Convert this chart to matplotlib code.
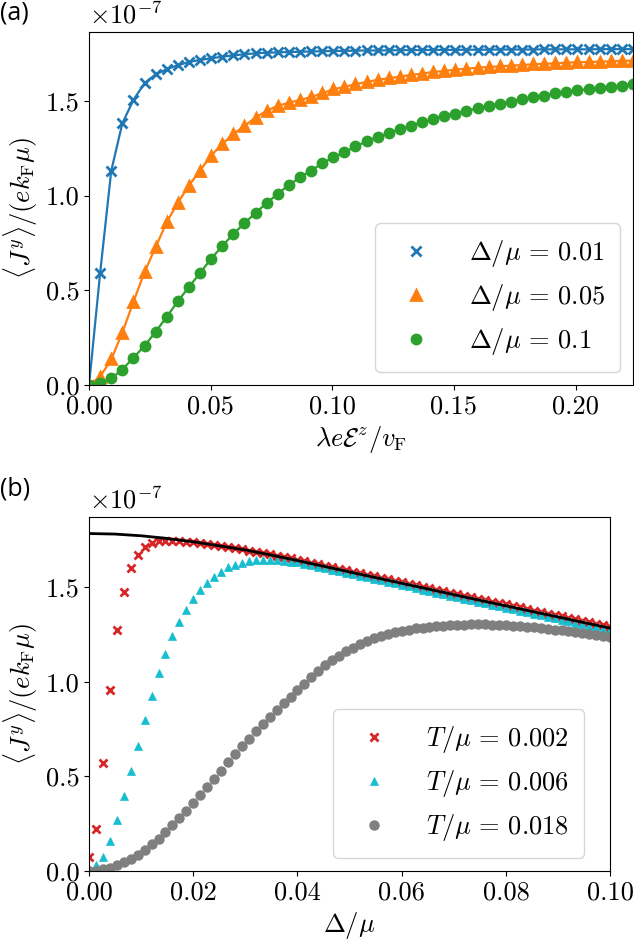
import numpy as np
import matplotlib
matplotlib.use('Agg')
import matplotlib.pyplot as plt
from matplotlib.ticker import FuncFormatter, MultipleLocator

plt.rcParams['font.family'] = 'serif'
plt.rcParams['font.serif'] = ['cmr10']
plt.rcParams['mathtext.fontset'] = 'cm'
plt.rcParams['axes.unicode_minus'] = False

# ---- panel (a): current vs field, values in units of 1e-7 ----
field = np.linspace(0, 0.2236, 50)

j_d001 = [0.0, 0.59, 1.13, 1.381, 1.505, 1.593, 1.640, 1.667, 1.688, 1.705,
          1.716, 1.725, 1.733, 1.740, 1.746, 1.751, 1.754, 1.756, 1.758, 1.759,
          1.761, 1.762, 1.763, 1.764, 1.765, 1.766, 1.766, 1.767, 1.767, 1.768,
          1.768, 1.769, 1.769, 1.769, 1.770, 1.770, 1.770, 1.771, 1.771, 1.771,
          1.771, 1.772, 1.772, 1.772, 1.772, 1.772, 1.773, 1.773, 1.773, 1.773]

j_d005 = [0.0, 0.044, 0.135, 0.277, 0.439, 0.596, 0.728, 0.86, 0.962, 1.053,
          1.132, 1.211, 1.272, 1.325, 1.368, 1.412, 1.447, 1.474, 1.490, 1.505,
          1.520, 1.540, 1.561, 1.574, 1.588, 1.600, 1.611, 1.619, 1.628, 1.637,
          1.644, 1.653, 1.658, 1.665, 1.670, 1.675, 1.679, 1.682, 1.686, 1.689,
          1.693, 1.696, 1.698, 1.702, 1.704, 1.705, 1.707, 1.709, 1.711, 1.712]

j_d01 = [0.0, 0.012, 0.035, 0.082, 0.144, 0.207, 0.281, 0.36, 0.442, 0.518,
         0.591, 0.667, 0.733, 0.798, 0.854, 0.909, 0.96, 1.01, 1.055, 1.096,
         1.132, 1.17, 1.202, 1.228, 1.26, 1.286, 1.311, 1.328, 1.351, 1.368,
         1.386, 1.404, 1.421, 1.433, 1.447, 1.461, 1.474, 1.486, 1.496, 1.509,
         1.518, 1.528, 1.539, 1.547, 1.556, 1.561, 1.567, 1.574, 1.581, 1.588]

# ---- panel (b): current vs gap, values in units of 1e-7 ----
gap = np.linspace(0, 0.1, 76)

j_t0002 = [0.075, 0.221, 0.57, 0.956, 1.272, 1.474, 1.603, 1.67, 1.714, 1.735,
           1.743, 1.746, 1.746, 1.744, 1.741, 1.737, 1.733, 1.728, 1.723, 1.717,
           1.711, 1.706, 1.700, 1.694, 1.688, 1.681, 1.674, 1.667, 1.660, 1.652,
           1.645, 1.637, 1.629, 1.621, 1.613, 1.605, 1.597, 1.589, 1.581, 1.573,
           1.566, 1.558, 1.550, 1.542, 1.534, 1.527, 1.519, 1.511, 1.503, 1.495,
           1.487, 1.479, 1.471, 1.464, 1.456, 1.448, 1.440, 1.432, 1.424, 1.416,
           1.409, 1.401, 1.393, 1.385, 1.377, 1.369, 1.361, 1.354, 1.346, 1.338,
           1.330, 1.322, 1.314, 1.307, 1.299, 1.291]

j_t0006 = [0.01, 0.032, 0.075, 0.158, 0.268, 0.396, 0.528, 0.663, 0.8, 0.926,
           1.047, 1.149, 1.240, 1.314, 1.381, 1.439, 1.486, 1.525, 1.556, 1.582,
           1.605, 1.618, 1.630, 1.638, 1.643, 1.645, 1.645, 1.643, 1.640, 1.636,
           1.631, 1.624, 1.616, 1.608, 1.600, 1.592, 1.584, 1.576, 1.568, 1.560,
           1.552, 1.544, 1.536, 1.528, 1.520, 1.512, 1.504, 1.496, 1.488, 1.480,
           1.472, 1.464, 1.456, 1.448, 1.440, 1.432, 1.424, 1.416, 1.408, 1.400,
           1.392, 1.384, 1.376, 1.368, 1.360, 1.352, 1.344, 1.336, 1.328, 1.320,
           1.312, 1.304, 1.296, 1.288, 1.280, 1.272]

j_t0018 = [0.0, 0.002, 0.008, 0.017, 0.030, 0.046, 0.065, 0.087, 0.112, 0.140,
           0.171, 0.205, 0.241, 0.279, 0.319, 0.360, 0.402, 0.445, 0.488, 0.531,
           0.574, 0.617, 0.659, 0.700, 0.740, 0.779, 0.816, 0.852, 0.886, 0.918,
           0.955, 0.99, 1.025, 1.057, 1.087, 1.114, 1.139, 1.161, 1.181, 1.199,
           1.215, 1.229, 1.241, 1.252, 1.261, 1.269, 1.276, 1.282, 1.287, 1.291,
           1.294, 1.297, 1.299, 1.301, 1.302, 1.303, 1.303, 1.303, 1.302, 1.301,
           1.299, 1.297, 1.294, 1.291, 1.288, 1.284, 1.280, 1.276, 1.272, 1.268,
           1.263, 1.258, 1.253, 1.248, 1.243, 1.238]

# zero-temperature curve
gap_line = np.linspace(0, 0.1, 21)
j_t0 = [1.784, 1.781, 1.772, 1.758, 1.740, 1.719, 1.697, 1.670, 1.641, 1.611,
        1.581, 1.551, 1.521, 1.491, 1.461, 1.431, 1.402, 1.372, 1.343, 1.313,
        1.284]

FS = 19
LEG = dict(fontsize=FS, handletextpad=1.0, borderpad=0.55, labelspacing=0.5)

fig = plt.figure(figsize=(6.34, 9.47), dpi=100)
ax_a = fig.add_axes([0.1404, 0.5934, 0.858, 0.3731])
ax_b = fig.add_axes([0.1404, 0.0803, 0.822, 0.3741])

# panel (a)
for y, c, m, lab in [(j_d001, '#1f77b4', 'x', r'$\Delta/\mu\,=\,0.01$'),
                     (j_d005, '#ff7f0e', '^', r'$\Delta/\mu\,=\,0.05$'),
                     (j_d01, '#2ca02c', 'o', r'$\Delta/\mu\,=\,0.1$')]:
    ax_a.plot(field, y, '-', color=c, lw=1.6)
    ax_a.plot(field, y, m, color=c, ms=6.5, mew=2, ls='none', label=lab)

ax_a.set_xlim(0, 0.2236)
ax_a.set_ylim(0, 1.865)
ax_a.xaxis.set_major_locator(MultipleLocator(0.05))
ax_a.set_xlabel(r'$\lambda e \mathcal{E}^z / v_{\rm F}$', fontsize=FS)
ax_a.legend(loc='lower right', **LEG)

# panel (b)
ax_b.plot(gap, j_t0002, 'x', color='#d62728', ms=5.5, mew=2,
          label=r'$T/\mu\,=\,0.002$')
ax_b.plot(gap, j_t0006, '^', color='#17becf', ms=5.5, mew=0.5,
          label=r'$T/\mu\,=\,0.006$')
ax_b.plot(gap, j_t0018, 'o', color='#7f7f7f', ms=6.5,
          label=r'$T/\mu\,=\,0.018$')
ax_b.plot(gap_line, j_t0, '-', color='k', lw=2, zorder=5)
ax_b.set_xlim(0, 0.1)
ax_b.set_ylim(0, 1.873)
ax_b.xaxis.set_major_locator(MultipleLocator(0.02))
ax_b.set_xlabel(r'$\Delta/\mu$', fontsize=FS)
ax_b.legend(loc='lower right', bbox_to_anchor=(0.975, 0.0), **LEG)

for ax in (ax_a, ax_b):
    ax.yaxis.set_major_locator(MultipleLocator(0.5))
    ax.xaxis.set_major_formatter(FuncFormatter(lambda v, p: '{:.2f}'.format(v)))
    ax.yaxis.set_major_formatter(FuncFormatter(lambda v, p: '{:.1f}'.format(v)))
    ax.tick_params(labelsize=FS)
    ax.set_ylabel(r'$\langle J^y \rangle / (e k_{\rm F} \mu)$', fontsize=FS)
    ax.text(0.0, 1.01, r'$\times10^{-7}$', transform=ax.transAxes,
            fontsize=FS, ha='left', va='bottom')

fig.text(0.0, 1.0, '(a)', fontsize=18, family='Open Sans', ha='left', va='top')
fig.text(0.0, 0.497, '(b)', fontsize=18, family='Open Sans', ha='left', va='top')

fig.savefig('out.png', dpi=100)
